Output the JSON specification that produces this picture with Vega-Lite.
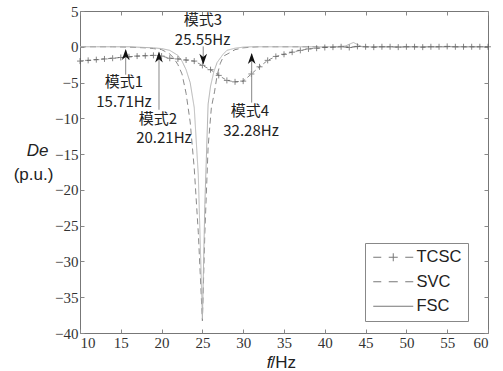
{
  "$schema": "https://vega.github.io/schema/vega-lite/v6.json",
  "width": 408,
  "height": 322,
  "autosize": "none",
  "padding": {"left": 80, "top": 11, "right": 15, "bottom": 38},
  "background": "white",
  "config": {
    "view": {"stroke": "#777", "strokeWidth": 1},
    "axis": {
      "domain": false,
      "grid": false,
      "tickColor": "#888",
      "tickSize": -4,
      "labelFont": "Liberation Serif",
      "labelFontSize": 15,
      "labelColor": "#333",
      "titleFont": "Liberation Sans",
      "titleFontSize": 17,
      "titleColor": "#222",
      "titleFontWeight": "normal"
    }
  },
  "datasets": {
    "curves": [
      {"series": "TCSC", "f": 10, "v": -2.0}, {"series": "TCSC", "f": 11, "v": -1.9}, {"series": "TCSC", "f": 12, "v": -1.8},
      {"series": "TCSC", "f": 13, "v": -1.7}, {"series": "TCSC", "f": 14, "v": -1.6}, {"series": "TCSC", "f": 15, "v": -1.5},
      {"series": "TCSC", "f": 16, "v": -1.4}, {"series": "TCSC", "f": 17, "v": -1.3}, {"series": "TCSC", "f": 18, "v": -1.25},
      {"series": "TCSC", "f": 19, "v": -1.2}, {"series": "TCSC", "f": 20, "v": -1.3}, {"series": "TCSC", "f": 21, "v": -1.6},
      {"series": "TCSC", "f": 22, "v": -1.7}, {"series": "TCSC", "f": 23, "v": -1.85}, {"series": "TCSC", "f": 24, "v": -2.0},
      {"series": "TCSC", "f": 25, "v": -2.6}, {"series": "TCSC", "f": 26, "v": -3.2}, {"series": "TCSC", "f": 27, "v": -4.0},
      {"series": "TCSC", "f": 28, "v": -4.7}, {"series": "TCSC", "f": 29, "v": -4.9}, {"series": "TCSC", "f": 30, "v": -4.8},
      {"series": "TCSC", "f": 31, "v": -3.8}, {"series": "TCSC", "f": 32, "v": -2.8}, {"series": "TCSC", "f": 33, "v": -1.9},
      {"series": "TCSC", "f": 34, "v": -1.35}, {"series": "TCSC", "f": 35, "v": -1.05}, {"series": "TCSC", "f": 36, "v": -0.75},
      {"series": "TCSC", "f": 37, "v": -0.5}, {"series": "TCSC", "f": 38, "v": -0.3}, {"series": "TCSC", "f": 39, "v": -0.2},
      {"series": "TCSC", "f": 40, "v": -0.1}, {"series": "TCSC", "f": 41, "v": -0.05}, {"series": "TCSC", "f": 42, "v": 0},
      {"series": "TCSC", "f": 43, "v": -0.1}, {"series": "TCSC", "f": 44, "v": 0.05}, {"series": "TCSC", "f": 45, "v": 0},
      {"series": "TCSC", "f": 46, "v": -0.05}, {"series": "TCSC", "f": 47, "v": 0}, {"series": "TCSC", "f": 48, "v": 0},
      {"series": "TCSC", "f": 49, "v": -0.05}, {"series": "TCSC", "f": 50, "v": 0}, {"series": "TCSC", "f": 51, "v": 0},
      {"series": "TCSC", "f": 52, "v": -0.05}, {"series": "TCSC", "f": 53, "v": 0}, {"series": "TCSC", "f": 54, "v": 0},
      {"series": "TCSC", "f": 55, "v": 0.05}, {"series": "TCSC", "f": 56, "v": 0}, {"series": "TCSC", "f": 57, "v": 0},
      {"series": "TCSC", "f": 58, "v": 0}, {"series": "TCSC", "f": 59, "v": 0}, {"series": "TCSC", "f": 60, "v": 0},

      {"series": "SVC", "f": 10, "v": 0}, {"series": "SVC", "f": 12, "v": 0}, {"series": "SVC", "f": 14, "v": 0},
      {"series": "SVC", "f": 16, "v": -0.05}, {"series": "SVC", "f": 17, "v": -0.1}, {"series": "SVC", "f": 18, "v": -0.15},
      {"series": "SVC", "f": 19, "v": -0.25}, {"series": "SVC", "f": 20, "v": -0.4}, {"series": "SVC", "f": 21, "v": -1.0},
      {"series": "SVC", "f": 21.5, "v": -1.6}, {"series": "SVC", "f": 22, "v": -2.5}, {"series": "SVC", "f": 22.5, "v": -3.8},
      {"series": "SVC", "f": 23, "v": -6.5}, {"series": "SVC", "f": 23.5, "v": -10.5}, {"series": "SVC", "f": 24, "v": -17},
      {"series": "SVC", "f": 24.5, "v": -26}, {"series": "SVC", "f": 25, "v": -38.3}, {"series": "SVC", "f": 25.3, "v": -26},
      {"series": "SVC", "f": 25.7, "v": -14}, {"series": "SVC", "f": 26.1, "v": -8.5}, {"series": "SVC", "f": 26.5, "v": -6.2},
      {"series": "SVC", "f": 26.8, "v": -4.0}, {"series": "SVC", "f": 27.2, "v": -2.3}, {"series": "SVC", "f": 27.6, "v": -1.3},
      {"series": "SVC", "f": 28.4, "v": -0.8}, {"series": "SVC", "f": 29, "v": -0.4}, {"series": "SVC", "f": 30, "v": -0.15},
      {"series": "SVC", "f": 31, "v": -0.05}, {"series": "SVC", "f": 32, "v": 0}, {"series": "SVC", "f": 34, "v": 0},
      {"series": "SVC", "f": 36, "v": 0}, {"series": "SVC", "f": 38, "v": 0}, {"series": "SVC", "f": 40, "v": 0},
      {"series": "SVC", "f": 42, "v": 0}, {"series": "SVC", "f": 44, "v": 0}, {"series": "SVC", "f": 46, "v": 0},
      {"series": "SVC", "f": 48, "v": 0}, {"series": "SVC", "f": 50, "v": 0}, {"series": "SVC", "f": 52, "v": 0},
      {"series": "SVC", "f": 54, "v": 0}, {"series": "SVC", "f": 56, "v": 0}, {"series": "SVC", "f": 58, "v": 0},
      {"series": "SVC", "f": 60, "v": 0},

      {"series": "FSC", "f": 10, "v": 0}, {"series": "FSC", "f": 12, "v": 0}, {"series": "FSC", "f": 14, "v": 0},
      {"series": "FSC", "f": 16, "v": 0}, {"series": "FSC", "f": 17, "v": -0.05}, {"series": "FSC", "f": 18, "v": -0.1},
      {"series": "FSC", "f": 19, "v": -0.15}, {"series": "FSC", "f": 20, "v": -0.25}, {"series": "FSC", "f": 21, "v": -0.5},
      {"series": "FSC", "f": 22, "v": -1.2}, {"series": "FSC", "f": 22.5, "v": -2.0}, {"series": "FSC", "f": 23, "v": -3.2},
      {"series": "FSC", "f": 23.5, "v": -5.0}, {"series": "FSC", "f": 24, "v": -8.5}, {"series": "FSC", "f": 24.5, "v": -18},
      {"series": "FSC", "f": 25, "v": -38}, {"series": "FSC", "f": 25.3, "v": -22}, {"series": "FSC", "f": 25.7, "v": -8},
      {"series": "FSC", "f": 26, "v": -5.5}, {"series": "FSC", "f": 26.4, "v": -3.5}, {"series": "FSC", "f": 26.8, "v": -2.2},
      {"series": "FSC", "f": 27.5, "v": -1.1}, {"series": "FSC", "f": 28, "v": -0.5}, {"series": "FSC", "f": 29, "v": -0.2},
      {"series": "FSC", "f": 30, "v": -0.05}, {"series": "FSC", "f": 31, "v": 0}, {"series": "FSC", "f": 33, "v": 0},
      {"series": "FSC", "f": 35, "v": 0}, {"series": "FSC", "f": 37, "v": 0}, {"series": "FSC", "f": 39, "v": 0},
      {"series": "FSC", "f": 41, "v": 0}, {"series": "FSC", "f": 42.5, "v": 0.1}, {"series": "FSC", "f": 43.5, "v": 0.6},
      {"series": "FSC", "f": 44.5, "v": 0.05}, {"series": "FSC", "f": 46, "v": 0}, {"series": "FSC", "f": 48, "v": 0},
      {"series": "FSC", "f": 50, "v": 0}, {"series": "FSC", "f": 52, "v": 0}, {"series": "FSC", "f": 54, "v": 0},
      {"series": "FSC", "f": 56, "v": 0}, {"series": "FSC", "f": 58, "v": 0}, {"series": "FSC", "f": 60, "v": 0}
    ],
    "arrows": [
      {"mode": "1", "f": 15.6, "top": -0.5, "bottom": -3.9, "head": -1.09, "dir": "up"},
      {"mode": "2", "f": 19.68, "top": -0.8, "bottom": -8.8, "head": -1.43, "dir": "up"},
      {"mode": "3", "f": 25.1, "top": 0.05, "bottom": -2.3, "head": -1.75, "dir": "down"},
      {"mode": "4", "f": 31.04, "top": -1.0, "bottom": -7.8, "head": -1.65, "dir": "up"}
    ],
    "labels": [
      {"text": "模式1", "f": 15.39, "v": -4.95},
      {"text": "15.71Hz", "f": 15.39, "v": -7.65},
      {"text": "模式2", "f": 19.56, "v": -10.1},
      {"text": "20.21Hz", "f": 20.29, "v": -12.8},
      {"text": "模式3", "f": 25.07, "v": 3.8},
      {"text": "25.55Hz", "f": 25.02, "v": 1.0},
      {"text": "模式4", "f": 30.83, "v": -9.0},
      {"text": "32.28Hz", "f": 30.96, "v": -11.8}
    ]
  },
  "layer": [
    {
      "data": {"name": "curves"},
      "mark": {"type": "line", "strokeWidth": 1},
      "encoding": {
        "x": {"field": "f", "type": "quantitative", "scale": {"domain": [10, 60], "nice": false, "zero": false},
          "axis": {"orient": "bottom", "values": [10, 15, 20, 25, 30, 35, 40, 45, 50, 55, 60], "labelPadding": 6, "labelDx": 9,
            "title": "/Hz", "titleX": 190, "titleY": 34, "titleAlign": "left", "titleBaseline": "alphabetic", "titleAnchor": "start"}},
        "y": {"field": "v", "type": "quantitative", "scale": {"domain": [-40, 5], "nice": false, "zero": false},
          "axis": {"orient": "left", "values": [-40, -35, -30, -25, -20, -15, -10, -5, 0, 5], "labelPadding": 6,
            "title": "De", "titleFontStyle": "italic", "titleAngle": 0, "titleX": -43, "titleY": 139, "titleAlign": "center", "titleBaseline": "middle"}},
        "color": {"field": "series", "type": "nominal", "scale": {"range": ["#b4b4b4", "#8a8a8a", "#8a8a8a"]}, "legend": null},
        "strokeDash": {"field": "series", "type": "nominal", "scale": {"range": [[1, 0], [6, 4], [4, 3]]}, "legend": null}
      }
    },
    {
      "data": {"name": "curves"},
      "transform": [{"filter": "datum.series === 'TCSC'"}],
      "mark": {"type": "point", "shape": "M-1,0L1,0M0,-1L0,1", "size": 36, "filled": false, "stroke": "#555", "strokeWidth": 1},
      "encoding": {
        "x": {"field": "f", "type": "quantitative",
          "axis": {"orient": "bottom", "labels": false, "ticks": false, "title": "f", "titleFontStyle": "italic", "titleX": 191, "titleY": 34, "titleAlign": "right", "titleBaseline": "alphabetic", "titleAnchor": "start"}},
        "y": {"field": "v", "type": "quantitative",
          "axis": {"orient": "left", "labels": false, "ticks": false, "title": "(p.u.)", "titleAngle": 0, "titleX": -47, "titleY": 163, "titleAlign": "center", "titleBaseline": "middle"}}
      }
    },
    {
      "data": {"name": "curves"},
      "mark": {"type": "point", "size": 0, "filled": false, "color": "#777", "strokeWidth": 1},
      "encoding": {
        "x": {"field": "f", "type": "quantitative",
          "axis": {"orient": "top", "labels": false, "title": null, "values": [10, 15, 20, 25, 30, 35, 40, 45, 50, 55, 60]}},
        "y": {"field": "v", "type": "quantitative",
          "axis": {"orient": "right", "labels": false, "title": null, "values": [-40, -35, -30, -25, -20, -15, -10, -5, 0, 5]}},
        "shape": {"field": "series", "type": "nominal",
          "scale": {"domain": ["TCSC", "SVC", "FSC"], "range": [
            "M-4,0L-2.4,0M-0.9,0L0.9,0M2.4,0L4,0M0,-0.8L0,0.8",
            "M-4,0L-2.4,0M-0.9,0L0.9,0M2.4,0L4,0",
            "M-4,0L4,0"]},
          "legend": {"orient": "none", "legendX": 285, "legendY": 232, "title": null, "strokeColor": "#888", "fillColor": "white",
            "padding": 6, "symbolSize": 100, "symbolStrokeColor": "#777", "symbolFillColor": "transparent", "symbolStrokeWidth": 1,
            "symbolOpacity": 1, "labelFont": "Liberation Sans", "labelFontSize": 16.5, "labelColor": "#222",
            "symbolOffset": 14, "labelOffset": 15, "rowPadding": 7.5}}
      }
    },
    {
      "data": {"name": "arrows"},
      "mark": {"type": "rule", "stroke": "#888", "strokeWidth": 1},
      "encoding": {
        "x": {"field": "f", "type": "quantitative", "axis": null},
        "y": {"field": "top", "type": "quantitative", "axis": null},
        "y2": {"field": "bottom"}
      }
    },
    {
      "data": {"name": "arrows"},
      "transform": [{"filter": "datum.dir === 'up'"}],
      "mark": {"type": "point", "shape": "M0,-1L0.7,1L0,0.4L-0.7,1Z", "size": 121, "filled": true, "color": "#111", "opacity": 1},
      "encoding": {
        "x": {"field": "f", "type": "quantitative", "axis": null},
        "y": {"field": "head", "type": "quantitative", "axis": null}
      }
    },
    {
      "data": {"name": "arrows"},
      "transform": [{"filter": "datum.dir === 'down'"}],
      "mark": {"type": "point", "shape": "M0,1L0.7,-1L0,-0.4L-0.7,-1Z", "size": 121, "filled": true, "color": "#111", "opacity": 1},
      "encoding": {
        "x": {"field": "f", "type": "quantitative", "axis": null},
        "y": {"field": "head", "type": "quantitative", "axis": null}
      }
    },
    {
      "data": {"name": "labels"},
      "mark": {"type": "text", "font": "Noto Sans CJK SC", "fontSize": 15, "color": "#222", "align": "center", "baseline": "middle"},
      "encoding": {
        "x": {"field": "f", "type": "quantitative", "axis": null},
        "y": {"field": "v", "type": "quantitative", "axis": null},
        "text": {"field": "text", "type": "nominal"}
      }
    }
  ],
  "resolve": {"axis": {"x": "independent", "y": "independent"}}
}
